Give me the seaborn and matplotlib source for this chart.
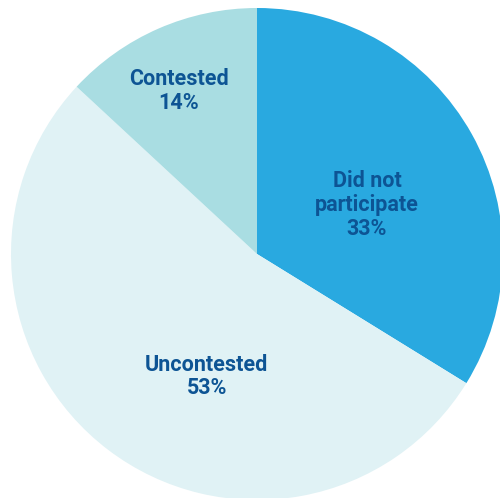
import matplotlib
matplotlib.use("Agg")
import matplotlib.pyplot as plt
import seaborn as sns

# Data
categories = ["Did not\nparticipate", "Uncontested", "Contested"]
shares = [33.8, 53.1, 13.1]           # wedge sizes as drawn
pct_labels = ["33%", "53%", "14%"]    # percentages as printed
colors = ["#29a9e0", "#e0f2f5", "#a9dde2"]

# Label positions (style, in pie-radius units)
label_pos = [(0.447, 0.199), (-0.205, -0.498), (-0.317, 0.663)]

sns.set_theme(style="white")
plt.rcParams["font.family"] = ["Roboto", "DejaVu Sans"]

fig = plt.figure(figsize=(5.0, 4.98), dpi=100)
ax = fig.add_axes([0, 0, 1, 1])
ax.pie(shares, colors=colors, startangle=90, counterclock=False,
       wedgeprops=dict(linewidth=0, edgecolor="none"))

for name, pct, (x, y) in zip(categories, pct_labels, label_pos):
    ax.text(x, y, f"{name}\n{pct}", ha="center", va="center",
            fontsize=15.5, fontweight="bold", color="#0d5494",
            linespacing=1.1)

r = 246.0
cx, cy = 257.0, 254.0
ax.set_xlim(-cx / r, (500 - cx) / r)
ax.set_ylim((cy - 498) / r, cy / r)
ax.set_aspect("equal")
ax.axis("off")
fig.savefig("out.png", dpi=100, facecolor="white")
